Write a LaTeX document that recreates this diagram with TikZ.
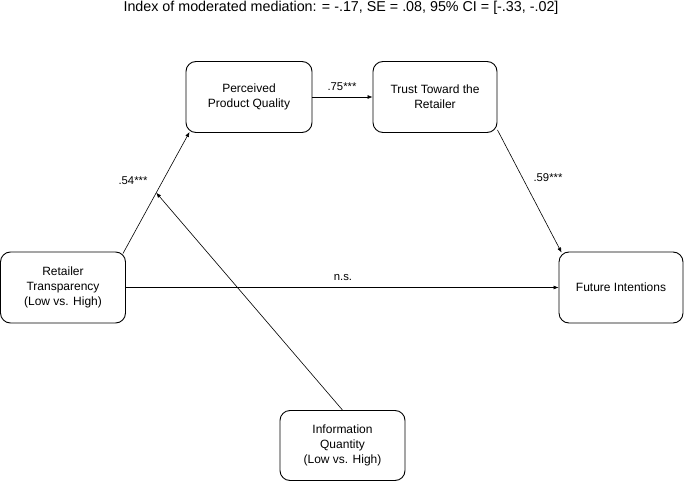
\documentclass[tikz,border=0pt]{standalone}
\usepackage{fontspec}
\setmainfont{Liberation Sans}
\usetikzlibrary{arrows.meta,calc}
\begin{document}
\begin{tikzpicture}[x=1pt,y=-1pt,
  box/.style={draw,line width=0.9pt,rounded corners=10pt,align=center,
    font=\fontsize{12}{15}\selectfont,inner sep=0pt},
  conn/.style={line width=0.6pt,-{Latex[length=5pt,width=4pt]}},
  lbl/.style={font=\fontsize{11.3}{12}\selectfont,inner sep=0pt}]
\useasboundingbox (0,0) rectangle (685,481);
\node[font=\fontsize{14.3}{16}\selectfont,anchor=base,inner sep=0pt] (title) at (341,12)
  {Index of moderated mediation: = -.17, SE = .08, 95\% CI = [-.33, -.02]};
\node[box,minimum width=126pt,minimum height=71pt] (ppq) at (249,97) {Perceived\\Product Quality};
\node[box,minimum width=124pt,minimum height=71pt] (trust) at (435,97) {Trust Toward the\\Retailer};
\node[box,minimum width=125pt,minimum height=71pt] (rt) at (63,287.5) {Retailer\\Transparency\\(Low vs. High)};
\node[box,minimum width=124pt,minimum height=71pt] (fi) at (621,287.5) {Future Intentions};
\node[box,minimum width=125pt,minimum height=70pt] (iq) at (342.5,445.5) {Information\\Quantity\\(Low vs. High)};
\coordinate (a) at ($(rt.north east)+(-3,2)$);
\coordinate (b) at ($(ppq.south west)+(4,-1)$);
\draw[conn] (a) -- (b);
\coordinate (m) at ($(a)!0.5!(b)$);
\draw[conn] (iq.north) -- (m);
\draw[conn] (ppq.east) -- (trust.west);
\coordinate (c) at ($(trust.south east)+(0,-3)$);
\coordinate (d) at ($(fi.north west)+(3,1)$);
\draw[conn] (c) -- (d);
\draw[conn] (rt.east) -- (fi.west);
\node[lbl] (l54) at (133,181) {.54***};
\node[lbl] (l75) at (342,87) {.75***};
\node[lbl] (l59) at (548,178) {.59***};
\node[lbl] (lns) at (343,278) {n.s.};
\end{tikzpicture}
\end{document}
